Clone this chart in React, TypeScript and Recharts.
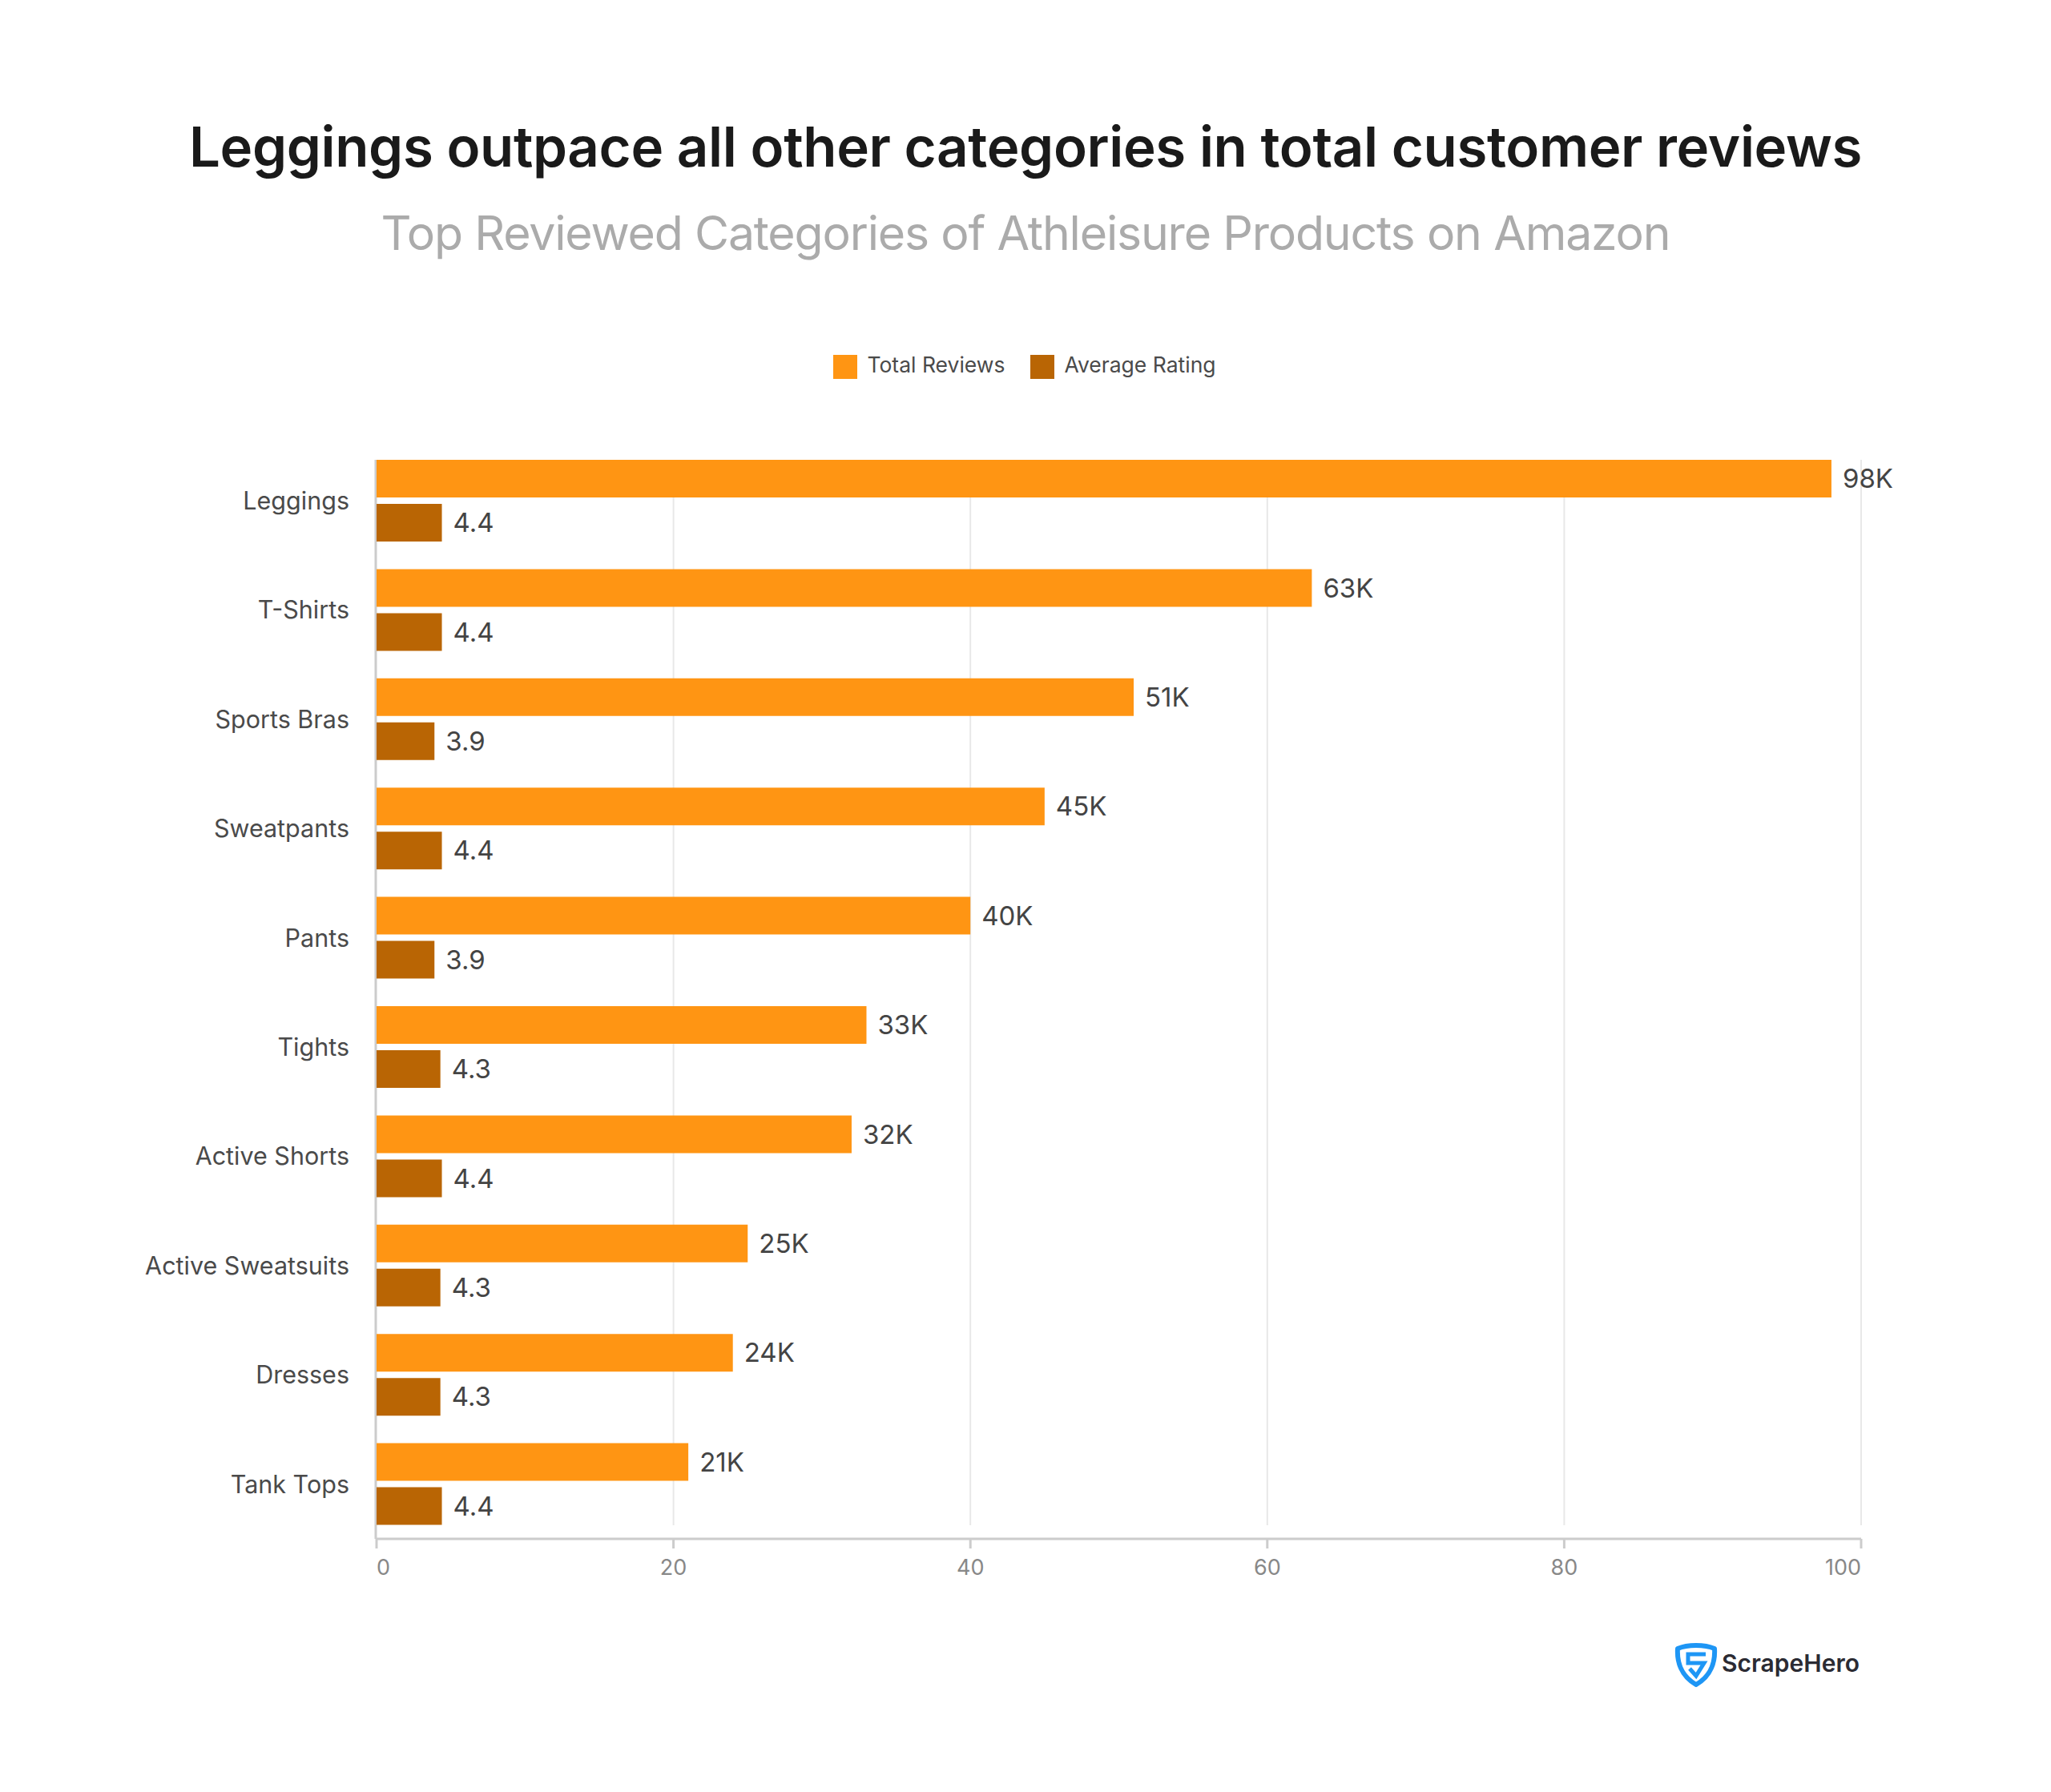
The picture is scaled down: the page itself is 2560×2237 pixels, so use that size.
import {
  BarChart,
  Bar,
  XAxis,
  YAxis,
  CartesianGrid,
  Legend,
  LabelList,
} from "recharts";

const categories = [
  "Leggings",
  "T-Shirts",
  "Sports Bras",
  "Sweatpants",
  "Pants",
  "Tights",
  "Active Shorts",
  "Active Sweatsuits",
  "Dresses",
  "Tank Tops",
];
const totalReviews = [98, 63, 51, 45, 40, 33, 32, 25, 24, 21];
const averageRating = [4.4, 4.4, 3.9, 4.4, 3.9, 4.3, 4.4, 4.3, 4.3, 4.4];
const xTicks = [0, 20, 40, 60, 80, 100];

const data = categories.map((category, i) => ({
  category,
  total: totalReviews[i],
  rating: averageRating[i],
}));

const FONT = "Inter, 'Noto Sans', sans-serif";
const PLOT_LEFT = 470;

// first and last tick labels sit inside the plot edges
const XTick = ({ x, y, payload, index }: any) => (
  <text
    x={x}
    y={y + 31}
    fontFamily={FONT}
    fontSize={27}
    fill="#888888"
    textAnchor={index === 0 ? "start" : index === xTicks.length - 1 ? "end" : "middle"}
  >
    {payload.value}
  </text>
);

// gridlines stop short of the plot top and bottom; the one at 0 doubles as the axis line
const GridLine = ({ x1, x2, y1, y2 }: any) =>
  x1 === PLOT_LEFT ? (
    <line x1={x1 - 1} x2={x2 - 1} y1={y1 + 17} y2={y2} stroke="#CCCCCC" strokeWidth={3} />
  ) : (
    <line x1={x1} x2={x2} y1={y1 + 17} y2={y2 - 17} stroke="#E8E8E8" strokeWidth={2} />
  );

const Logo = () => (
  <div style={{ position: "absolute", left: 2090, top: 2050, width: 240, height: 56 }}>
    <svg width={54} height={56} viewBox="0 0 54 56" style={{ position: "absolute", left: 0, top: 0 }}>
      <path
        d="M27 4 C35 4 43 5 50 8 C51 24 46 42 27 53 C8 42 3 24 4 8 C11 5 19 4 27 4 Z"
        fill="none"
        stroke="#1E96F5"
        strokeWidth={6}
        strokeLinejoin="round"
      />
      <path
        d="M39 15 H17 V26 H37 L27 42 L19 33"
        fill="none"
        stroke="#1E96F5"
        strokeWidth={5}
      />
    </svg>
    <div
      style={{
        position: "absolute",
        left: 59,
        top: 7,
        fontFamily: FONT,
        fontWeight: 600,
        fontSize: 30,
        lineHeight: "38px",
        color: "#2B2B33",
      }}
    >
      ScrapeHero
    </div>
  </div>
);

export default function App() {
  return (
    <div
      style={{
        position: "absolute",
        left: 0,
        top: 0,
        width: 2560,
        height: 2237,
        background: "#FFFFFF",
        overflow: "hidden",
      }}
    >
      <div
        style={{
          position: "absolute",
          left: 0,
          top: 140,
          width: 2560,
          textAlign: "center",
          fontFamily: FONT,
          fontWeight: 600,
          fontSize: 69,
          letterSpacing: -0.37,
          lineHeight: "86px",
          color: "#1A1A1A",
        }}
      >
        Leggings outpace all other categories in total customer reviews
      </div>
      <div
        style={{
          position: "absolute",
          left: 0,
          top: 254,
          width: 2560,
          textAlign: "center",
          fontFamily: FONT,
          fontWeight: 400,
          fontSize: 59,
          letterSpacing: -1.2,
          lineHeight: "74px",
          color: "#ABABAB",
        }}
      >
        Top Reviewed Categories of Athleisure Products on Amazon
      </div>

      <BarChart
        width={2560}
        height={2237}
        data={data}
        layout="vertical"
        barSize={47}
        barGap={8}
        margin={{ top: 557, right: 237, bottom: 256, left: 0 }}
        style={{ position: "absolute", left: 0, top: 0 }}
      >
        <CartesianGrid horizontal={false} vertical={(props: any) => <GridLine key={props.key} {...props} />} />
        <XAxis
          type="number"
          domain={[0, 100]}
          ticks={xTicks}
          height={60}
          stroke="#CCCCCC"
          strokeWidth={3}
          tickSize={12}
          tick={<XTick />}
        />
        <YAxis
          type="category"
          dataKey="category"
          width={PLOT_LEFT}
          axisLine={false}
          tickLine={false}
          tickMargin={28}
          interval={0}
          tick={{ fontFamily: FONT, fontSize: 30.5, fill: "#4A4A4A" }}
        />
        <Legend
          verticalAlign="middle"
          iconType="square"
          iconSize={30}
          itemSorter={null}
          wrapperStyle={{ top: 439, left: 0, width: 2568, fontFamily: FONT, fontSize: 26.5 }}
          formatter={(value: string, _entry: any, index: number) => (
            <span style={{ color: "#4A4A4A", marginLeft: 8, marginRight: index === 0 ? 22 : 0 }}>{value}</span>
          )}
        />
        <Bar dataKey="total" name="Total Reviews" fill="#FF9513" isAnimationActive={false}>
          <LabelList
            dataKey="total"
            position="right"
            offset={14}
            formatter={(v: number) => `${v}K`}
            style={{ fontFamily: FONT, fontSize: 33, fill: "#444444" }}
          />
        </Bar>
        <Bar dataKey="rating" name="Average Rating" fill="#B96504" isAnimationActive={false}>
          <LabelList
            dataKey="rating"
            position="right"
            offset={14}
            style={{ fontFamily: FONT, fontSize: 33, fill: "#444444" }}
          />
        </Bar>
      </BarChart>

      <Logo />
    </div>
  );
}
